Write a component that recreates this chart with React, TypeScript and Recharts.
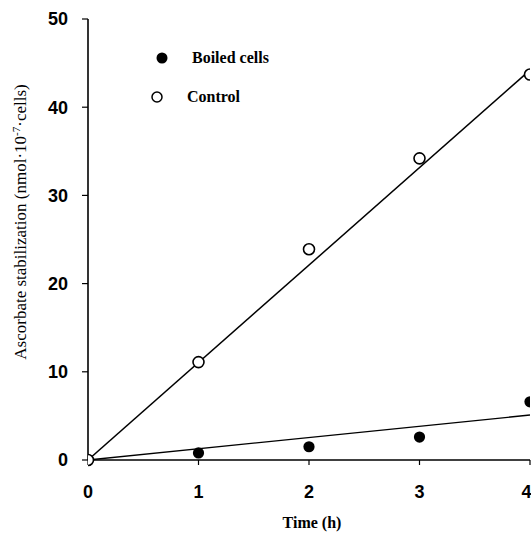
import React from 'react';
import { ComposedChart, XAxis, YAxis, Line, Scatter, Label } from 'recharts';

const xTicks = [0, 1, 2, 3, 4];
const yTicks = [0, 10, 20, 30, 40, 50];

const controlTimes = [0, 1, 2, 3, 4];
const controlValues = [0, 11.1, 23.9, 34.2, 43.7];

const boiledTimes = [1, 2, 3, 4];
const boiledValues = [0.8, 1.5, 2.6, 6.6];

const fitTimes = [0, 4];
const controlFitValues = [0, 44.2];
const boiledFitValues = [0, 5.1];

const legendLabels = ['Boiled cells', 'Control'];

const controlData = controlTimes.map((x, i) => ({ x, y: controlValues[i] }));
const boiledData = boiledTimes.map((x, i) => ({ x, y: boiledValues[i] }));
const controlFit = fitTimes.map((x, i) => ({ x, y: controlFitValues[i] }));
const boiledFit = fitTimes.map((x, i) => ({ x, y: boiledFitValues[i] }));

const serif = '"Liberation Serif", "DejaVu Serif", serif';
const sans = '"Liberation Sans", Arial, sans-serif';

const OpenDot = (p: any) => (
  <circle cx={p.cx} cy={p.cy} r={5.5} fill="#fff" stroke="#000" strokeWidth={1.6} />
);
const FilledDot = (p: any) => <circle cx={p.cx} cy={p.cy} r={5.6} fill="#000" />;

const LegendBox = () => (
  <svg width={160} height={70} style={{ position: 'absolute', left: 140, top: 40 }}>
    <circle cx={22} cy={18} r={5.5} fill="#000" />
    <text x={52} y={23} fontFamily={serif} fontWeight="bold" fontSize={16} fill="#000">
      {legendLabels[0]}
    </text>
    <circle cx={17} cy={57} r={5} fill="#fff" stroke="#000" strokeWidth={1.5} />
    <text x={47} y={62} fontFamily={serif} fontWeight="bold" fontSize={16} fill="#000">
      {legendLabels[1]}
    </text>
  </svg>
);

export default function App() {
  return (
    <div style={{ position: 'absolute', left: 0, top: 0, width: 531, height: 534, background: '#fff' }}>
      <ComposedChart width={531} height={534} margin={{ top: 19, right: 1, bottom: 0, left: 0 }}>
        <XAxis
          type="number"
          dataKey="x"
          domain={[0, 4]}
          ticks={xTicks}
          allowDataOverflow
          height={74}
          tickSize={5}
          tickMargin={20}
          axisLine={{ stroke: '#000', strokeWidth: 1.6 }}
          tickLine={{ stroke: '#000', strokeWidth: 1.2 }}
          tick={{ fill: '#000', fontFamily: sans, fontWeight: 'bold', fontSize: 18 }}
        >
          <Label
            content={(props: any) => {
              const vb = props.viewBox;
              return (
                <text
                  x={vb.x + vb.width / 2 + 3}
                  y={528}
                  textAnchor="middle"
                  fontFamily={serif}
                  fontWeight="bold"
                  fontSize={16}
                  fill="#000"
                >
                  Time (h)
                </text>
              );
            }}
          />
        </XAxis>
        <YAxis
          type="number"
          dataKey="y"
          domain={[0, 50]}
          ticks={yTicks}
          width={88}
          tickSize={6}
          tickMargin={14}
          axisLine={{ stroke: '#000', strokeWidth: 1.6 }}
          tickLine={{ stroke: '#000', strokeWidth: 1.2 }}
          tick={{ fill: '#000', fontFamily: sans, fontWeight: 'bold', fontSize: 18 }}
        >
          <Label
            content={() => (
              <text
                x={0}
                y={0}
                transform="translate(26, 222) rotate(-90)"
                textAnchor="middle"
                fontFamily={serif}
                fontSize={17}
                fill="#000"
              >
                <tspan>Ascorbate stabilization (nmol·10</tspan>
                <tspan dy={-6} fontSize={11}>-7</tspan>
                <tspan dy={6}>·cells)</tspan>
              </text>
            )}
          />
        </YAxis>
        <Line
          data={controlFit}
          dataKey="y"
          stroke="#000"
          strokeWidth={1.5}
          dot={false}
          activeDot={false}
          isAnimationActive={false}
          legendType="none"
        />
        <Line
          data={boiledFit}
          dataKey="y"
          stroke="#000"
          strokeWidth={1.3}
          dot={false}
          activeDot={false}
          isAnimationActive={false}
          legendType="none"
        />
        <Scatter data={boiledData} dataKey="y" shape={FilledDot} isAnimationActive={false} />
        <Scatter data={controlData} dataKey="y" shape={OpenDot} isAnimationActive={false} />
      </ComposedChart>
      <LegendBox />
    </div>
  );
}
